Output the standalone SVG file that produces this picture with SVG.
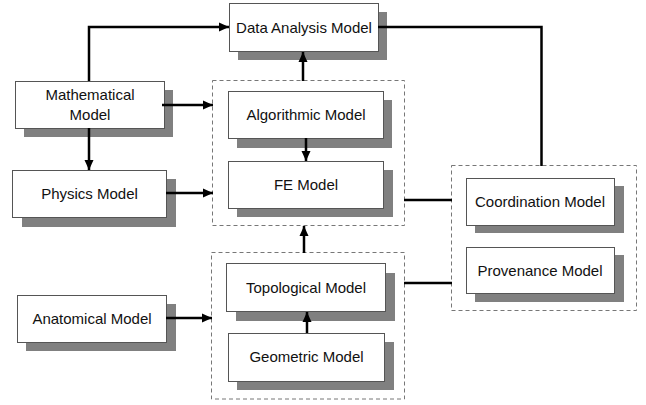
<svg xmlns="http://www.w3.org/2000/svg" width="646" height="405" viewBox="0 0 646 405">
<defs>
<style>
.sh{fill:#808080;}
.bx{fill:#fff;stroke:#555;stroke-width:1;}
.grp{fill:none;stroke:#777;stroke-width:1;stroke-dasharray:4,3;}
.t{font-family:"Liberation Sans",Arial,sans-serif;font-size:15px;fill:#111;text-anchor:middle;}
.c{fill:none;stroke:#000;stroke-width:2.5;}
.a{marker-end:url(#ah);}
</style>
<marker id="ah" markerUnits="userSpaceOnUse" markerWidth="11" markerHeight="11" viewBox="0 0 11 11" refX="10" refY="5.5" orient="auto">
<path d="M0,1 L10,5.5 L0,10 Z" fill="#000"/>
</marker>
</defs>
<rect width="646" height="405" fill="#fff"/>
<g id="groups">
<rect id="grp-fe" class="grp" x="212.5" y="80.5" width="192" height="145"/>
<rect id="grp-topo" class="grp" x="211.5" y="252.5" width="193" height="146.5"/>
<rect id="grp-coord" class="grp" x="451.5" y="165.5" width="185" height="145"/>
</g>
<g id="n-data">
<rect class="sh" x="238" y="12" width="149" height="48"/>
<rect class="bx" x="229.5" y="3.5" width="149" height="48"/>
<text class="t" x="304" y="32.5">Data Analysis Model</text>
</g>
<g id="n-math">
<rect class="sh" x="24" y="90" width="149" height="47"/>
<rect class="bx" x="15.5" y="81.5" width="149" height="47"/>
<text class="t" x="90" y="100">Mathematical</text>
<text class="t" x="90" y="120">Model</text>
</g>
<g id="n-phys">
<rect class="sh" x="22" y="179" width="154" height="48"/>
<rect class="bx" x="12.5" y="170.5" width="154" height="47"/>
<text class="t" x="89.5" y="199">Physics Model</text>
</g>
<g id="n-anat">
<rect class="sh" x="26" y="304" width="150" height="47"/>
<rect class="bx" x="17.5" y="295.5" width="149" height="47"/>
<text class="t" x="92" y="324">Anatomical Model</text>
</g>
<g id="n-algo">
<rect class="sh" x="237" y="100" width="155" height="48"/>
<rect class="bx" x="228.5" y="91.5" width="155" height="47"/>
<text class="t" x="306" y="120">Algorithmic Model</text>
</g>
<g id="n-fe">
<rect class="sh" x="237" y="170" width="156" height="47"/>
<rect class="bx" x="228.5" y="161.5" width="155" height="47"/>
<text class="t" x="306" y="190">FE Model</text>
</g>
<g id="n-topo">
<rect class="sh" x="236" y="273" width="159" height="48"/>
<rect class="bx" x="226.5" y="263.5" width="159" height="48"/>
<text class="t" x="306" y="293">Topological Model</text>
</g>
<g id="n-geom">
<rect class="sh" x="237" y="342" width="157" height="48"/>
<rect class="bx" x="228.5" y="333.5" width="156" height="48"/>
<text class="t" x="306.5" y="362">Geometric Model</text>
</g>
<g id="n-coord">
<rect class="sh" x="475" y="186" width="149" height="47"/>
<rect class="bx" x="466.5" y="178.5" width="148" height="47"/>
<text class="t" x="540" y="207">Coordination Model</text>
</g>
<g id="n-prov">
<rect class="sh" x="475" y="255" width="149" height="47"/>
<rect class="bx" x="466.5" y="247.5" width="148" height="46"/>
<text class="t" x="540" y="276">Provenance Model</text>
</g>
<g id="connectors">
<path class="c a" d="M89,81 V27 H229"/>
<path class="c a" d="M162,105 H213"/>
<path class="c a" d="M89,128 V170"/>
<path class="c a" d="M166,193 H213"/>
<path class="c a" d="M166,318 H212"/>
<path class="c a" d="M306,138 V161"/>
<path class="c a" d="M307,333 V312"/>
<path class="c a" d="M303,81 V52"/>
<path class="c a" d="M304,253 V226"/>
<path class="c" d="M378,27 H541.5 V166"/>
<path class="c" d="M404,200 H452"/>
<path class="c" d="M404,283 H452"/>
</g>
</svg>
